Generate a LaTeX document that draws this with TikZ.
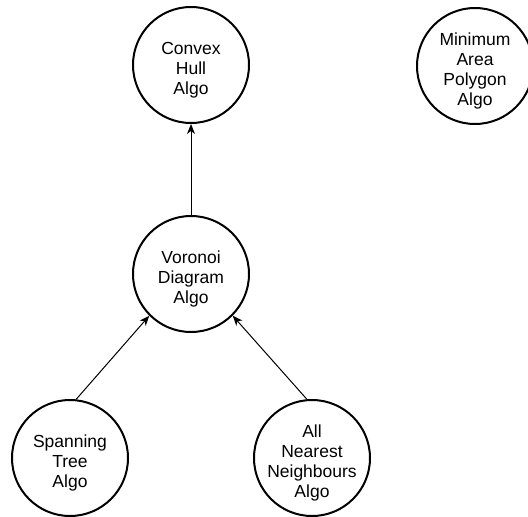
\documentclass[tikz,border=0pt]{standalone}
\usepackage{fontspec}
\setmainfont{Liberation Sans}
\usetikzlibrary{arrows.meta}
\begin{document}
\begin{tikzpicture}[x=1pt,y=-1pt,
  algotext/.style={align=center, yshift=-5pt, font=\fontsize{17.5}{20}\selectfont},
  algo/.style={draw, circle, line width=2pt, minimum size=116pt, inner sep=0pt,
    label={[algotext]center:{#1}}},
  link/.style={line width=1pt, -{Stealth[length=10pt,width=8pt,inset=3pt]}}]
\useasboundingbox (0,0) rectangle (528,517);
\clip (0,0) rectangle (528,517);

\node[algo={Convex\\Hull\\Algo}] (cvx) at (191,65) {};
\node[algo={Minimum\\Area\\Polygon\\Algo}] (map) at (475,66) {};
\node[algo={Voronoi\\Diagram\\Algo}] (vor) at (191,274) {};
\node[algo={Spanning\\Tree\\Algo}] (span) at (70,458) {};
\node[algo={All\\Nearest\\Neighbours\\Algo}] (ann) at (312,458) {};

\path[link]
(vor) edge (cvx)
(span.84) edge (vor.south west)
(ann.95) edge (vor.south east);
\end{tikzpicture}
\end{document}
